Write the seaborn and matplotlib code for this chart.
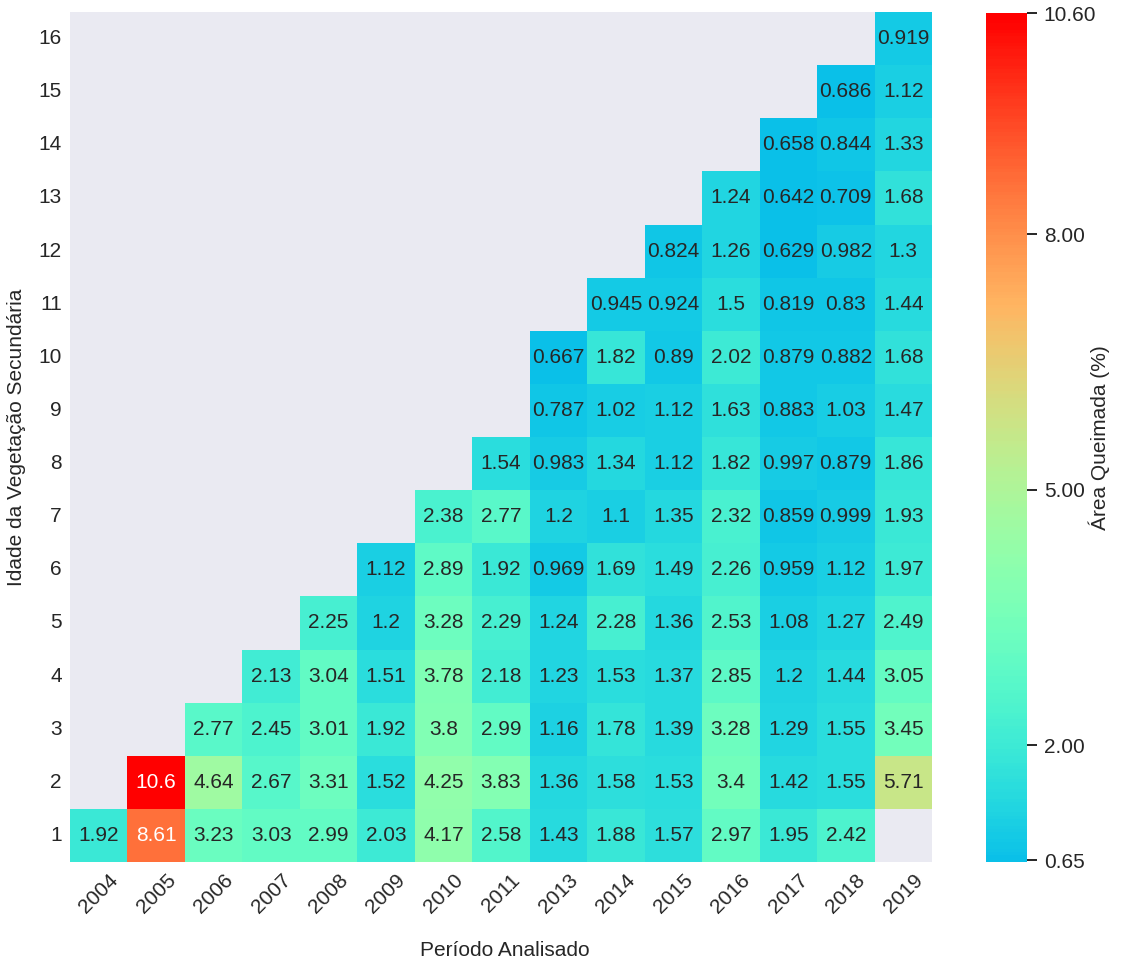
import numpy as np
import pandas as pd
import matplotlib
matplotlib.use("Agg")
import matplotlib.pyplot as plt
from matplotlib.colors import ListedColormap
import seaborn as sns

# Burned-area share (%) per analysed year and secondary-vegetation age (1..16)
years = ["2004", "2005", "2006", "2007", "2008", "2009", "2010", "2011",
         "2013", "2014", "2015", "2016", "2017", "2018", "2019"]
ages = list(range(1, 17))

nan = np.nan
y2004 = [1.92]
y2005 = [8.61, 10.6]
y2006 = [3.23, 4.64, 2.77]
y2007 = [3.03, 2.67, 2.45, 2.13]
y2008 = [2.99, 3.31, 3.01, 3.04, 2.25]
y2009 = [2.03, 1.52, 1.92, 1.51, 1.2, 1.12]
y2010 = [4.17, 4.25, 3.8, 3.78, 3.28, 2.89, 2.38]
y2011 = [2.58, 3.83, 2.99, 2.18, 2.29, 1.92, 2.77, 1.54]
y2013 = [1.43, 1.36, 1.16, 1.23, 1.24, 0.969, 1.2, 0.983, 0.787, 0.667]
y2014 = [1.88, 1.58, 1.78, 1.53, 2.28, 1.69, 1.1, 1.34, 1.02, 1.82, 0.945]
y2015 = [1.57, 1.53, 1.39, 1.37, 1.36, 1.49, 1.35, 1.12, 1.12, 0.89, 0.924,
         0.824]
y2016 = [2.97, 3.4, 3.28, 2.85, 2.53, 2.26, 2.32, 1.82, 1.63, 2.02, 1.5, 1.26,
         1.24]
y2017 = [1.95, 1.42, 1.29, 1.2, 1.08, 0.959, 0.859, 0.997, 0.883, 0.879,
         0.819, 0.629, 0.642, 0.658]
y2018 = [2.42, 1.55, 1.55, 1.44, 1.27, 1.12, 0.999, 0.879, 1.03, 0.882, 0.83,
         0.982, 0.709, 0.844, 0.686]
y2019 = [nan, 5.71, 3.45, 3.05, 2.49, 1.97, 1.93, 1.86, 1.47, 1.68, 1.44, 1.3,
         1.68, 1.33, 1.12, 0.919]

columns = [y2004, y2005, y2006, y2007, y2008, y2009, y2010, y2011,
           y2013, y2014, y2015, y2016, y2017, y2018, y2019]

table = pd.DataFrame(
    {yr: col + [nan] * (len(ages) - len(col)) for yr, col in zip(years, columns)},
    index=ages,
)
table = table.iloc[::-1]  # oldest vegetation age on top

cbar_ticks = [0.65, 2.00, 5.00, 8.00, 10.60]

sns.set_theme(style="dark")
plt.rcParams["font.family"] = ["Liberation Sans", "DejaVu Sans"]

# upper part of the rainbow map: sky blue -> green -> orange -> red
cmap = ListedColormap(plt.cm.rainbow(np.linspace(0.27, 1.0, 256)))

fig = plt.figure(figsize=(11.29, 9.65), dpi=100)
W, H = 1129, 965
ax = fig.add_axes([70 / W, (H - 862) / H, 862 / W, 850 / H])
cax = fig.add_axes([986 / W, (H - 862) / H, 41 / W, 849 / H])

vmin = np.nanmin(table.values)
vmax = np.nanmax(table.values)

sns.heatmap(table, ax=ax, cbar_ax=cax, cmap=cmap, vmin=vmin, vmax=vmax,
            annot=True, fmt=".3g", annot_kws={"fontsize": 15},
            cbar_kws={"ticks": cbar_ticks, "format": "%.2f"})

ax.set_facecolor("#EAEAF2")
ax.set_xlabel("Período Analisado", fontsize=15)
ax.set_ylabel("Idade da Vegetação Secundária", fontsize=15)
ax.xaxis.set_label_coords(0.505, -0.093)
ax.yaxis.set_label_coords(-0.051, 0.5)
ax.tick_params(axis="x", labelsize=15, rotation=45, length=0, pad=6)
ax.tick_params(axis="y", labelsize=15, rotation=0, length=0, pad=6)

cax.tick_params(labelsize=15, length=7, width=1.4, color="#262626",
                direction="out", pad=5)
cax.set_ylabel("Área Queimada (%)", fontsize=15)
cax.yaxis.set_label_coords(2.5, 0.5)
for spine in cax.spines.values():
    spine.set_visible(False)

fig.savefig("out.png", dpi=100, facecolor="white")
